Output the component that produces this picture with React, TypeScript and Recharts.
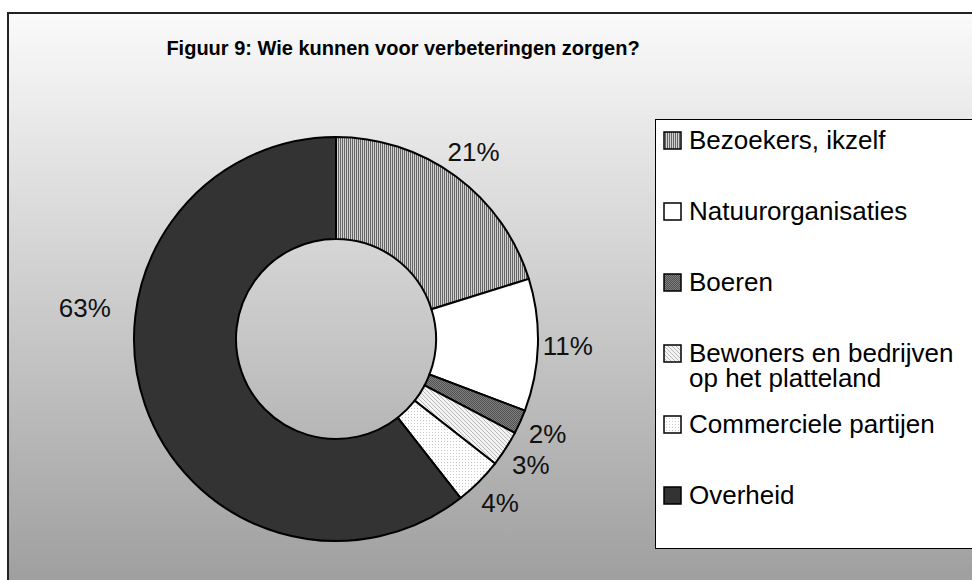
import React from "react";
import { Cell, Pie, PieChart } from "recharts";

const categories = [
  "Bezoekers, ikzelf",
  "Natuurorganisaties",
  "Boeren",
  "Bewoners en bedrijven op het platteland",
  "Commerciele partijen",
  "Overheid",
];
const shares = [21, 11, 2, 3, 4, 63];
const title = "Figuur 9: Wie kunnen voor verbeteringen zorgen?";

const data = categories.map((name, i) => ({ name, value: shares[i] }));

// fills per slice (pattern ids are defined in <Patterns />)
const FILLS = [
  "url(#pat-vstripe)",
  "#ffffff",
  "url(#pat-dark)",
  "url(#pat-diag)",
  "url(#pat-dots)",
  "#333333",
];

const FONT = "'Liberation Sans', Arial, sans-serif";

function Patterns() {
  return (
    <defs>
      <pattern id="pat-vstripe" width="2" height="2" patternUnits="userSpaceOnUse">
        <rect width="2" height="2" fill="#d0d0d0" />
        <rect width="1" height="2" fill="#666" />
      </pattern>
      <pattern id="pat-dark" width="2" height="2" patternUnits="userSpaceOnUse">
        <rect width="2" height="2" fill="#808080" />
        <rect width="1" height="1" fill="#505050" />
        <rect x="1" y="1" width="1" height="1" fill="#505050" />
      </pattern>
      <pattern id="pat-diag" width="4" height="4" patternUnits="userSpaceOnUse">
        <rect width="4" height="4" fill="#f4f4f4" />
        <path d="M0,0 L4,4 M-1,3 L1,5 M3,-1 L5,1" stroke="#b8b8b8" strokeWidth="1" />
      </pattern>
      <pattern id="pat-dots" width="3" height="3" patternUnits="userSpaceOnUse">
        <rect width="3" height="3" fill="#ffffff" />
        <rect width="1" height="1" fill="#c8c8c8" />
      </pattern>
    </defs>
  );
}

const RAD = Math.PI / 180;

function renderLabel(props: any) {
  const { cx, cy, midAngle, outerRadius, value, percent } = props;
  // the dominant slice gets its label pulled up to the left side, like the original
  const angle = percent > 0.5 ? 173 : midAngle;
  const r = outerRadius + (percent > 0.5 ? 51 : 30);
  const x = cx + r * Math.cos(-angle * RAD);
  const y = cy + r * Math.sin(-angle * RAD);
  return (
    <text
      x={x}
      y={y}
      textAnchor="middle"
      dominantBaseline="central"
      fill="#111"
      fontSize={26}
      fontFamily={FONT}
    >
      {`${value}%`}
    </text>
  );
}

function LegendBox() {
  return (
    <div
      style={{
        position: "absolute",
        left: 655,
        top: 119,
        width: 330,
        height: 430,
        boxSizing: "border-box",
        border: "1px solid #000",
        background: "#fff",
        paddingTop: 8,
        fontFamily: FONT,
        fontSize: 26,
        lineHeight: "25px",
        color: "#000",
      }}
    >
      {data.map((d, i) => (
        <div key={d.name} style={{ display: "flex", height: 71, paddingLeft: 7 }}>
          <svg width={20} height={25} style={{ flex: "none" }}>
            <rect x={1} y={4} width={17} height={17} fill={FILLS[i]} stroke="#000" strokeWidth={1.5} />
          </svg>
          <div style={{ width: 278, marginLeft: 6 }}>{d.name}</div>
        </div>
      ))}
    </div>
  );
}

export default function App() {
  return (
    <div style={{ position: "fixed", left: 0, top: 0, width: 972, height: 580, overflow: "hidden", background: "#fff" }}>
      <div
        style={{
          position: "absolute",
          left: 7,
          top: 12,
          width: 990,
          height: 590,
          boxSizing: "border-box",
          border: "2px solid #222",
          background: "linear-gradient(#fafafa, #9c9c9c)",
        }}
      />
      <div
        style={{
          position: "absolute",
          left: 7,
          top: 37,
          width: 792,
          textAlign: "center",
          fontFamily: FONT,
          fontWeight: "bold",
          fontSize: 20,
          color: "#000",
        }}
      >
        {title}
      </div>
      <div style={{ position: "absolute", left: 0, top: 0 }}>
        <PieChart width={972} height={580}>
          <Patterns />
          <Pie
            data={data}
            dataKey="value"
            nameKey="name"
            cx={331}
            cy={334}
            innerRadius={100}
            outerRadius={202}
            startAngle={90}
            endAngle={-270}
            stroke="#000"
            strokeWidth={2}
            label={renderLabel}
            labelLine={false}
            isAnimationActive={false}
          >
            {data.map((d, i) => (
              <Cell key={d.name} fill={FILLS[i]} />
            ))}
          </Pie>
        </PieChart>
      </div>
      <LegendBox />
    </div>
  );
}
